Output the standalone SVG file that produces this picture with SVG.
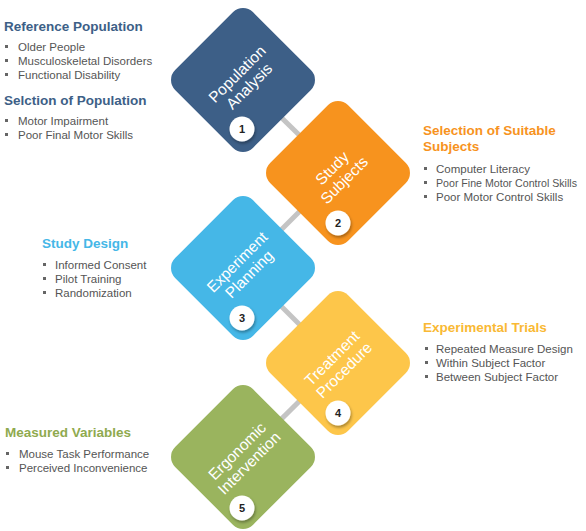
<svg xmlns="http://www.w3.org/2000/svg" width="586" height="531" viewBox="0 0 586 531">
<defs>
<filter id="sh" x="-50%" y="-50%" width="200%" height="200%">
<feDropShadow dx="1" dy="2" stdDeviation="1.5" flood-color="#000" flood-opacity="0.35"/>
</filter>
<rect id="dia" x="-55" y="-55" width="110" height="110" rx="14" ry="14"/>
</defs>
<style>
text{font-family:"Liberation Sans",Arial,sans-serif}
.lbl{fill:#fff;font-size:15.5px;text-anchor:middle}
.num{fill:#222;font-size:11px;font-weight:bold;text-anchor:middle}
.badge{fill:#fff;filter:url(#sh)}
.hd{font-size:13.5px;font-weight:bold}
.it{font-size:11.5px;fill:#555}
.bl{fill:#666}
.con{stroke:#c4c4c4;stroke-width:5;fill:none}
</style>
<rect width="586" height="531" fill="#fff"/>
<g id="connectors">
<line class="con" x1="243" y1="80" x2="338" y2="173"/>
<line class="con" x1="338" y1="173" x2="243" y2="268"/>
<line class="con" x1="243" y1="268" x2="338" y2="363"/>
<line class="con" x1="338" y1="363" x2="243" y2="457"/>
</g>
<g id="node1">
<use href="#dia" transform="translate(243,80) rotate(45)" fill="#3D5F87"/>
<g transform="translate(243,80) rotate(-45)">
<text class="lbl" x="0" y="-3">Population</text>
<text class="lbl" x="0" y="14">Analysis</text>
</g>
<circle class="badge" cx="242" cy="129" r="12.5"/>
<text class="num" x="242" y="133">1</text>
</g>
<g id="node2">
<use href="#dia" transform="translate(338,173) rotate(45)" fill="#F7931E"/>
<g transform="translate(338,174) rotate(-45)">
<text class="lbl" x="0" y="-3">Study</text>
<text class="lbl" x="0" y="14">Subjects</text>
</g>
<circle class="badge" cx="338" cy="223" r="12.5"/>
<text class="num" x="338" y="227">2</text>
</g>
<g id="node3">
<use href="#dia" transform="translate(243,268) rotate(45)" fill="#45B7E7"/>
<g transform="translate(243,268) rotate(-45)">
<text class="lbl" x="0" y="-3">Experiment</text>
<text class="lbl" x="0" y="14">Planning</text>
</g>
<circle class="badge" cx="242" cy="318" r="12.5"/>
<text class="num" x="242" y="322">3</text>
</g>
<g id="node4">
<use href="#dia" transform="translate(338,363) rotate(45)" fill="#FDC64A"/>
<g transform="translate(338,364) rotate(-45)">
<text class="lbl" x="0" y="-3">Treatment</text>
<text class="lbl" x="0" y="14">Procedure</text>
</g>
<circle class="badge" cx="338" cy="413" r="12.5"/>
<text class="num" x="338" y="417">4</text>
</g>
<g id="node5">
<use href="#dia" transform="translate(243,457) rotate(45)" fill="#9AB45E"/>
<g transform="translate(243,457) rotate(-45)">
<text class="lbl" x="0" y="-3">Ergonomic</text>
<text class="lbl" x="0" y="14">Intervention</text>
</g>
<circle class="badge" cx="242" cy="508" r="12.5"/>
<text class="num" x="242" y="512">5</text>
</g>
<g id="text1">
<text class="hd" x="4" y="31" fill="#3D5F87">Reference Population</text>
<rect class="bl" x="5" y="45" width="3" height="3"/><text class="it" x="18" y="51">Older People</text>
<rect class="bl" x="5" y="59" width="3" height="3"/><text class="it" x="18" y="65">Musculoskeletal Disorders</text>
<rect class="bl" x="5" y="73" width="3" height="3"/><text class="it" x="18" y="79">Functional Disability</text>
<text class="hd" x="4" y="105" fill="#3D5F87">Selction of Population</text>
<rect class="bl" x="5" y="119" width="3" height="3"/><text class="it" x="18" y="125">Motor Impairment</text>
<rect class="bl" x="5" y="133" width="3" height="3"/><text class="it" x="18" y="139">Poor Final Motor Skills</text>
</g>
<g id="text2">
<text class="hd" x="423" y="135" fill="#F7931E">Selection of Suitable</text>
<text class="hd" x="423" y="151" fill="#F7931E">Subjects</text>
<rect class="bl" x="424" y="167" width="3" height="3"/><text class="it" x="436" y="173">Computer Literacy</text>
<rect class="bl" x="424" y="181" width="3" height="3"/><text class="it" x="436" y="187" style="font-size:11px" textLength="141" lengthAdjust="spacingAndGlyphs">Poor Fine Motor Control Skills</text>
<rect class="bl" x="424" y="195" width="3" height="3"/><text class="it" x="436" y="201">Poor Motor Control Skills</text>
</g>
<g id="text3">
<text class="hd" x="42" y="248" fill="#45B7E7">Study Design</text>
<rect class="bl" x="43" y="263" width="3" height="3"/><text class="it" x="55" y="269">Informed Consent</text>
<rect class="bl" x="43" y="277" width="3" height="3"/><text class="it" x="55" y="283">Pilot Training</text>
<rect class="bl" x="43" y="291" width="3" height="3"/><text class="it" x="55" y="297">Randomization</text>
</g>
<g id="text4">
<text class="hd" x="423" y="332" fill="#F9B934">Experimental Trials</text>
<rect class="bl" x="425" y="347" width="3" height="3"/><text class="it" x="436" y="353">Repeated Measure Design</text>
<rect class="bl" x="425" y="361" width="3" height="3"/><text class="it" x="436" y="367">Within Subject Factor</text>
<rect class="bl" x="425" y="375" width="3" height="3"/><text class="it" x="436" y="381">Between Subject Factor</text>
</g>
<g id="text5">
<text class="hd" x="5" y="437" fill="#8FAA4F">Measured Variables</text>
<rect class="bl" x="6" y="452" width="3" height="3"/><text class="it" x="19" y="458">Mouse Task Performance</text>
<rect class="bl" x="6" y="466" width="3" height="3"/><text class="it" x="19" y="472">Perceived Inconvenience</text>
</g>
</svg>
